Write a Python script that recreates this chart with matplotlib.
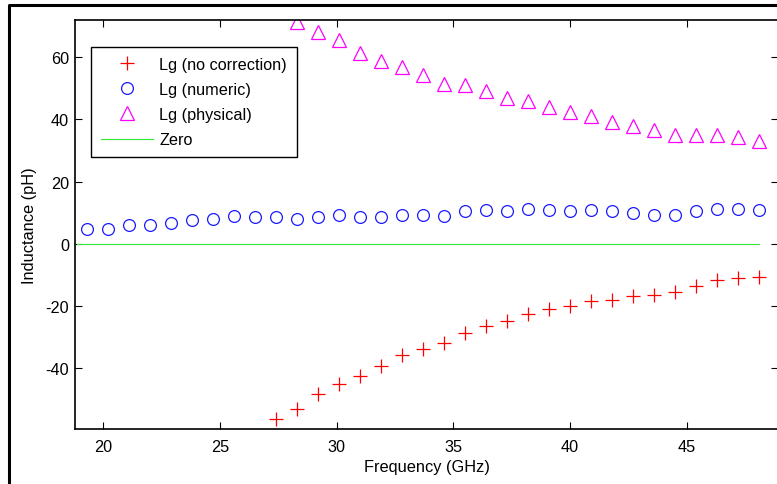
import numpy as np
import matplotlib
matplotlib.use("Agg")
import matplotlib.pyplot as plt
from matplotlib.lines import Line2D

plt.rcParams["font.family"] = ["Liberation Sans", "DejaVu Sans"]

# frequency grid (GHz)
freq = [19.3, 20.2, 21.1, 22.0, 22.9, 23.8, 24.7, 25.6, 26.5, 27.4, 28.3,
        29.2, 30.1, 31.0, 31.9, 32.8, 33.7, 34.6, 35.5, 36.4, 37.3, 38.2,
        39.1, 40.0, 40.9, 41.8, 42.7, 43.6, 44.5, 45.4, 46.3, 47.2, 48.1]

nan = np.nan
# Lg (no correction) - points below the axis are not visible
lg_nocorr = [nan, nan, nan, nan, nan, nan, nan, nan, nan, -56.2, -53.2,
             -48.4, -44.9, -42.5, -39.4, -35.8, -33.7, -31.9, -28.7, -26.4, -24.9, -22.5,
             -20.9, -20.1, -18.5, -17.9, -16.9, -16.6, -15.5, -13.7, -11.5, -11.0, -10.7]
# Lg (numeric)
lg_numeric = [4.8, 4.8, 6.2, 6.2, 6.6, 7.7, 8.1, 9.0, 8.6, 8.6, 8.1,
              8.6, 9.4, 8.6, 8.6, 9.4, 9.4, 9.0, 10.5, 10.9, 10.5, 11.3,
              10.9, 10.5, 10.9, 10.5, 9.8, 9.4, 9.4, 10.5, 11.3, 11.3, 10.9]
# Lg (physical) - points above the axis are not visible
lg_physical = [nan, nan, nan, nan, nan, nan, nan, nan, nan, nan, 71.2,
               68.1, 65.5, 61.4, 58.6, 56.9, 54.2, 51.4, 50.9, 49.1, 46.8, 45.9,
               44.1, 42.4, 40.9, 39.2, 37.8, 36.4, 35.1, 35.1, 35.1, 34.2, 32.9]

xlim = (18.77, 48.93)
ylim = (-59.5, 71.9)
zero_x = [18.85, 48.1]
zero_y = [0, 0]

W, H = 777, 485
fig = plt.figure(figsize=(W / 100, H / 100), dpi=100)
ax = fig.add_axes([74.7 / W, (H - 430) / H, (778.5 - 74.7) / W, (430 - 21) / H])

ax.plot(freq, lg_nocorr, linestyle="none", marker="+", color=(1, 0, 0),
        markersize=10, markeredgewidth=0.9, label="Lg (no correction)")
ax.plot(freq, lg_numeric, linestyle="none", marker="o", markerfacecolor="none",
        markeredgecolor=(0.1, 0.1, 1), markersize=8.5, markeredgewidth=0.9,
        label="Lg (numeric)")
ax.plot(freq, lg_physical, linestyle="none", marker="^", markerfacecolor="none",
        markeredgecolor=(1, 0, 1), markersize=9.5, markeredgewidth=0.9,
        label="Lg (physical)")
ax.plot(zero_x, zero_y, color=(0.2, 0.9, 0.2), linewidth=0.8, label="Zero")

ax.set_xlim(*xlim)
ax.set_ylim(*ylim)
ax.set_xticks([20, 25, 30, 35, 40, 45])
ax.set_yticks([-40, -20, 0, 20, 40, 60])
ax.set_yticklabels(["-40", "-20", "0", "20", "40", "60"])
ax.tick_params(direction="in", length=5, width=0.8, labelsize=11.7, pad=4,
               top=True, right=True)
ax.tick_params(axis="x", pad=7)
for s in ax.spines.values():
    s.set_linewidth(1.2)

ax.set_xlabel("Frequency (GHz)", fontsize=11.8, labelpad=4)
ax.set_ylabel("Inductance (pH)", fontsize=11.8, labelpad=6)

leg = ax.legend(loc="upper left", bbox_to_anchor=(0.0232, 0.9333),
                borderaxespad=0, fontsize=11.7, numpoints=1, handlelength=3.2,
                handletextpad=0.4, labelspacing=0.62, borderpad=0.6,
                fancybox=False, framealpha=1)
leg.get_frame().set_edgecolor("black")
leg.get_frame().set_linewidth(1.0)

# outer page frame (top and left)
fig.add_artist(Line2D([8.5 / W, 8.5 / W, 1.01], [-0.01, 1 - 6 / H, 1 - 6 / H],
                      transform=fig.transFigure, color="black", linewidth=2.2))

fig.savefig("out.png", dpi=100)
